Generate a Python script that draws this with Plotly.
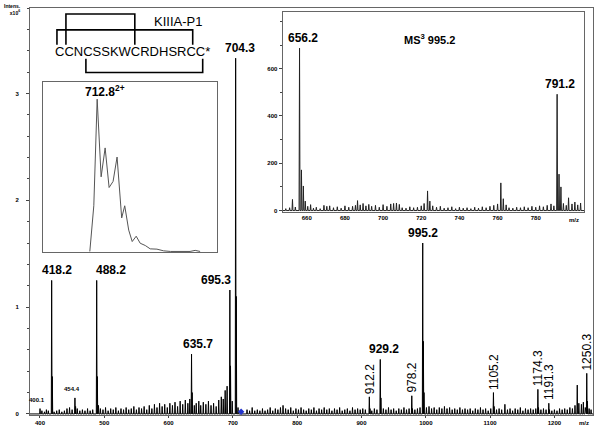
import plotly.graph_objects as go

# main spectrum, intensities in x10^6
peak_mz = [400.1, 418.2, 454.4, 488.2, 635.7, 695.3, 704.3, 912.2, 929.2, 978.2, 995.2, 1105.2, 1174.3, 1191.3, 1250.3]
peak_int = [0.05, 1.25, 0.15, 1.25, 0.56, 1.16, 3.33, 0.16, 0.51, 0.17, 1.60, 0.20, 0.23, 0.10, 0.38]

minor_mz = [403, 407, 410, 413, 419.2, 422, 426, 430, 434, 438, 442, 446, 450, 455.4, 458, 462, 466, 470,
            474, 478, 482, 489.2, 491, 494, 498, 502, 506, 510, 514, 518, 522, 526, 530, 534, 538, 542,
            546, 550, 554, 558, 562, 566, 570, 574, 578, 582, 586, 590, 594, 598, 602, 606, 610, 614,
            618, 622, 626, 630, 633, 636.7, 640, 643, 647, 650, 654, 658, 662, 666, 670, 674, 678, 682,
            685, 688, 691, 696.3, 699, 705.3, 708, 722, 726, 730, 734, 738, 742, 746, 750, 754, 758, 762,
            766, 770, 774, 778, 782, 786, 790, 794, 798, 802, 806, 810, 814, 818, 822, 826, 830, 834,
            838, 842, 846, 850, 854, 858, 862, 866, 870, 874, 878, 882, 886, 890, 894, 898, 902, 906,
            913.2, 916, 920, 924, 930.2, 934, 938, 942, 946, 950, 954, 958, 962, 966, 970, 974, 979.2,
            983, 987, 991, 996.2, 997.2, 1001, 1005, 1009, 1013, 1017, 1021, 1025, 1029, 1033, 1037,
            1041, 1045, 1049, 1053, 1057, 1061, 1065, 1069, 1073, 1077, 1081, 1085, 1089, 1093, 1097,
            1101, 1106.2, 1110, 1114, 1118, 1123, 1127, 1131, 1135, 1139, 1143, 1147, 1151, 1155, 1159,
            1163, 1167, 1171, 1175.3, 1179, 1183, 1187, 1192.3, 1196, 1200, 1204, 1208, 1212, 1216,
            1220, 1224, 1228, 1232, 1235.5, 1238, 1242, 1245, 1248, 1251.3, 1254, 1257]
minor_int = [0.03, 0.02, 0.04, 0.03, 0.35, 0.02, 0.03, 0.04, 0.02, 0.03, 0.05, 0.06, 0.04, 0.07, 0.05, 0.03, 0.04, 0.03,
             0.05, 0.03, 0.04, 0.35, 0.08, 0.05, 0.04, 0.06, 0.03, 0.05, 0.04, 0.06, 0.03, 0.05, 0.04, 0.06, 0.04, 0.05,
             0.07, 0.04, 0.06, 0.05, 0.07, 0.04, 0.08, 0.05, 0.09, 0.06, 0.10, 0.07, 0.09, 0.06, 0.10, 0.08, 0.11, 0.07,
             0.12, 0.09, 0.13, 0.10, 0.14, 0.20, 0.08, 0.10, 0.12, 0.08, 0.11, 0.09, 0.12, 0.08, 0.10, 0.07, 0.13, 0.16,
             0.14, 0.22, 0.26, 0.45, 0.12, 1.10, 0.06, 0.04, 0.03, 0.06, 0.03, 0.04, 0.03, 0.05, 0.03, 0.04, 0.06, 0.03,
             0.05, 0.04, 0.06, 0.08, 0.05, 0.04, 0.06, 0.03, 0.05, 0.04, 0.06, 0.04, 0.03, 0.05, 0.04, 0.06, 0.03, 0.05,
             0.04, 0.06, 0.04, 0.05, 0.03, 0.05, 0.04, 0.06, 0.03, 0.04, 0.05, 0.03, 0.06, 0.04, 0.05, 0.04, 0.05, 0.04,
             0.05, 0.03, 0.05, 0.04, 0.15, 0.05, 0.04, 0.06, 0.04, 0.05, 0.03, 0.05, 0.04, 0.06, 0.04, 0.05, 0.05,
             0.04, 0.05, 0.06, 0.68, 0.20, 0.06, 0.07, 0.05, 0.06, 0.04, 0.06, 0.05, 0.07, 0.05, 0.06,
             0.04, 0.05, 0.04, 0.06, 0.04, 0.05, 0.04, 0.05, 0.03, 0.05, 0.04, 0.06, 0.04, 0.05, 0.03,
             0.05, 0.07, 0.04, 0.05, 0.04, 0.09, 0.04, 0.05, 0.03, 0.05, 0.04, 0.06, 0.03, 0.05, 0.04,
             0.05, 0.04, 0.05, 0.06, 0.04, 0.05, 0.04, 0.04, 0.03, 0.04, 0.03, 0.05, 0.04, 0.05,
             0.04, 0.06, 0.05, 0.08, 0.27, 0.10, 0.09, 0.11, 0.06, 0.12, 0.05, 0.04]

horiz_labels = [418.2, 488.2, 635.7, 695.3, 704.3, 929.2, 995.2]
vert_labels = [912.2, 978.2, 1105.2, 1174.3, 1191.3, 1250.3]
small_labels = [400.1, 454.4]
precursor_mz = 712.8

# MS3 inset
ms3_mz = [649, 651, 652.5, 654, 656.2, 657.2, 658.2, 659.2, 660.5, 662, 663.5, 665, 667, 669, 670.5, 672,
          674, 676, 678, 680, 682, 684, 685.5, 686.6, 688, 689.5, 691, 692.5, 694, 696, 698, 700, 702,
          704, 705.5, 707, 708.5, 710, 712, 714, 716, 718, 720, 721.5, 723.3, 724.5, 726, 728, 730, 732,
          734, 736, 738, 740, 742, 744, 746, 748, 750, 752, 754, 756, 758, 760, 761.7, 763, 764.5, 766,
          768, 770, 772, 774, 776, 778, 780, 782, 784, 786, 788, 789.5, 791.2, 792.2, 793.2, 794.5, 796,
          797.2, 799, 800.5, 802, 803.5]
ms3_int = [8, 12, 47, 15, 687, 172, 104, 40, 18, 25, 10, 14, 8, 22, 18, 20,
           12, 16, 10, 20, 14, 18, 22, 42, 24, 30, 20, 26, 18, 22, 14, 25, 18,
           28, 30, 32, 26, 12, 10, 16, 12, 14, 20, 30, 83, 40, 20, 14, 18, 10,
           12, 16, 8, 14, 10, 12, 8, 14, 10, 16, 12, 18, 22, 28, 117, 50, 24, 12,
           10, 14, 12, 16, 12, 18, 14, 20, 16, 22, 28, 20, 492, 154, 100, 30, 22,
           54, 28, 36, 24, 32]
ms3_labels = [656.2, 791.2]

# 712.8 2+ isotope envelope inset
env_mz = [712.34, 712.59, 712.8, 713.05, 713.3, 713.55, 713.8, 714.05, 714.34, 714.53, 714.78, 715.0,
          715.25, 715.5, 715.82, 716.13, 716.55, 716.97, 717.4, 718.63, 718.95, 719.26]
env_int = [0, 30, 100, 49, 68, 42, 46, 62, 22, 30, 14, 6.5, 10, 5.4, 3.9, 1.7, 1.5, 0.4, 0, 0, 0.7, 0]

W, H = 600, 432
ML, MR, MT, MB = 30, 6, 8, 14
PW, PH = W - ML - MR, H - MT - MB


def px(x):
    return (x - ML) / PW


def py(y):
    return (H - MB - y) / PH


def sticks(mz, inten, hw, lo, hi):
    xs, ys = [lo], [0]
    for m, h in sorted(zip(mz, inten)):
        xs += [m - hw, m, m + hw]
        ys += [0, h, 0]
    xs.append(hi)
    ys.append(0)
    return xs, ys


FONT = "Arial, Liberation Sans, sans-serif"
xr = [384.5, 1260]
mx, my = sticks(peak_mz + minor_mz, peak_int + minor_int, 0.6, xr[0], xr[1])
ix, iy = sticks(ms3_mz, ms3_int, 0.25, 647.3, 805.3)

fig = go.Figure()
fig.add_trace(go.Scatter(x=mx, y=my, mode="lines", line=dict(color="black", width=1), hoverinfo="skip"))
fig.add_trace(go.Scatter(x=[precursor_mz], y=[0.02], mode="markers",
                         marker=dict(symbol="diamond", size=5, color="#2233cc")))
fig.add_trace(go.Scatter(x=ix, y=iy, mode="lines", line=dict(color="#222", width=1),
                         xaxis="x2", yaxis="y2"))
fig.add_trace(go.Scatter(x=env_mz, y=env_int, mode="lines", line=dict(color="#555", width=1),
                         xaxis="x3", yaxis="y3"))

tickfont = dict(family=FONT, size=6, color="black", weight="bold")
frame = dict(showline=True, mirror=True, linecolor="#666", linewidth=1, showgrid=False, zeroline=False)

fig.update_layout(
    width=W, height=H, margin=dict(l=ML, r=MR, t=MT, b=MB),
    paper_bgcolor="white", plot_bgcolor="white", showlegend=False,
    font=dict(family=FONT, color="black"),
    xaxis=dict(range=xr, tickvals=list(range(400, 1300, 100)), ticks="outside", ticklen=2,
               tickfont=tickfont, **frame),
    yaxis=dict(range=[-0.01, 3.8], tickvals=[0, 1, 2, 3], ticks="outside", ticklen=3,
               ticklabelstandoff=6, tickfont=tickfont,
               minor=dict(dtick=0.2, ticks="outside", ticklen=2), **frame),
    xaxis2=dict(domain=[px(283), px(585)], anchor="y2", range=[647.3, 805.3],
                tickvals=list(range(660, 800, 20)), ticks="", tickfont=tickfont, **frame),
    yaxis2=dict(domain=[py(213), py(12)], anchor="x2", range=[-4, 840],
                tickvals=[0, 200, 400, 600], ticks="outside", ticklen=3, tickfont=tickfont,
                minor=dict(dtick=100, ticks="outside", ticklen=2), **frame),
    xaxis3=dict(domain=[px(43), px(217)], anchor="y3", range=[709.4, 720.3],
                showticklabels=False, ticks="", **frame),
    yaxis3=dict(domain=[py(254), py(83)], anchor="x3", range=[-0.5, 111],
                showticklabels=False, ticks="", **frame),
)

ann = []
bold12 = dict(family=FONT, size=12, color="black", weight="bold")
shift = {418.2: 5, 488.2: 14, 635.7: 6, 695.3: -14, 704.3: 4, 929.2: 4, 995.2: 0}
for m in horiz_labels:
    h = peak_int[peak_mz.index(m)]
    ann.append(dict(x=m, y=h, text=f"{m}", showarrow=False, xanchor="center", yanchor="bottom",
                    xshift=shift[m], yshift=1, font=bold12))
for m in vert_labels:
    h = peak_int[peak_mz.index(m)]
    ann.append(dict(x=m, y=h, text=f"{m}", showarrow=False, textangle=-90, xanchor="center",
                    yanchor="bottom", yshift=1, font=dict(family=FONT, size=12, color="black")))
for m in small_labels:
    h = peak_int[peak_mz.index(m)]
    ann.append(dict(x=m, y=h, text=f"{m}", showarrow=False, xanchor="center", yanchor="bottom",
                    xshift=-3, yshift=4, font=tickfont))
for m in ms3_labels:
    h = ms3_int[ms3_mz.index(m)]
    ann.append(dict(x=m, y=h, text=f"{m}", showarrow=False, xanchor="center", yanchor="bottom",
                    xshift=3, yshift=1, xref="x2", yref="y2", font=bold12))
ann.append(dict(x=712.8, y=100, text="712.8<sup>2+</sup>", showarrow=False, xanchor="left",
                yanchor="bottom", xshift=-14, yshift=-2, xref="x3", yref="y3", font=bold12))


def paper_text(x, y, text, font, xanchor="center"):
    return dict(x=px(x), y=py(y), xref="paper", yref="paper", text=text, showarrow=False,
                xanchor=xanchor, yanchor="middle", font=font)


ann.append(paper_text(430, 39, "MS<sup>3</sup> 995.2",
                      dict(family=FONT, size=11, color="black", weight="bold")))
ann.append(paper_text(585, 426, "m/z", tickfont))
ann.append(paper_text(575, 222, "m/z", tickfont))
ann.append(dict(x=px(23), y=py(1), xref="paper", yref="paper", text="Intens.<br>x10<sup>6</sup>",
                showarrow=False, xanchor="right", yanchor="top", align="right",
                font=dict(family=FONT, size=5, color="black", weight="bold")))
# peptide and disulfide connectivity
seq_font = dict(family=FONT, size=13, color="black")
ann.append(paper_text(53, 52, "CCNCSSKWCRDHSRCC*", seq_font, xanchor="left"))
ann.append(paper_text(178, 22, "KIIIA-P1", seq_font))
fig.update_layout(annotations=ann)

brackets = [(66, 135, 45, 14), (57, 193, 45, 30), (86, 203, 59, 73)]
for x0, x1, y0, y1 in brackets:
    fig.add_shape(type="path", xref="paper", yref="paper",
                  path=f"M {px(x0)},{py(y0)} L {px(x0)},{py(y1)} L {px(x1)},{py(y1)} L {px(x1)},{py(y0)}",
                  line=dict(color="black", width=1.6))

fig.write_html("out.html", config={"displayModeBar": False},
               post_script="document.body.style.margin='0';")
